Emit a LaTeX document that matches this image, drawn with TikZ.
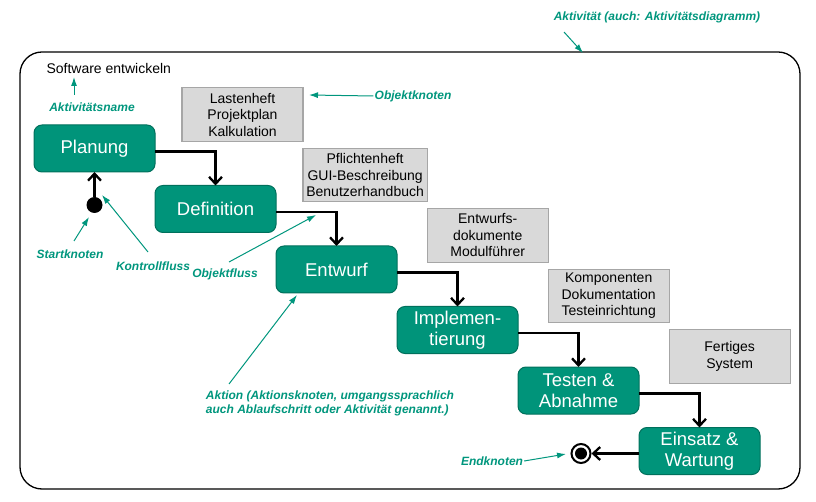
\documentclass[tikz,border=0pt]{standalone}
\usepackage{fontspec}
\setmainfont{Liberation Sans}
\usetikzlibrary{
	arrows.meta,
	positioning
}
\definecolor{ActFill}{RGB}{0,148,122}
\definecolor{ActBorder}{RGB}{0,112,92}
\definecolor{ObjFill}{RGB}{217,217,217}
\definecolor{ObjBorder}{RGB}{166,166,166}
\definecolor{NoteGreen}{RGB}{0,150,125}

\begin{document}
\begin{tikzpicture}[
			x=1pt, y=-1pt,
			node distance = 13.5pt and 0pt,
			ActStyle/.style={draw=ActBorder, fill=ActFill, rounded corners=8pt, line width=1pt,
				minimum width=121pt, minimum height=47pt, outer sep=0pt, text=white,
				align=center, font=\fontsize{18.5}{21}\selectfont},
			ObjStyle/.style={draw=ObjBorder, fill=ObjFill, line width=1.2pt, minimum width=121pt,
				minimum height=53.5pt, outer sep=0pt, align=center, font=\fontsize{14}{16.5}\selectfont},
			NoteStyle/.style={text=NoteGreen, inner sep=1pt, font=\fontsize{12}{14}\selectfont\bfseries\itshape},
			NoteArrow/.style={draw=NoteGreen, line width=1pt, -{Latex[length=9pt, width=6pt]}},
			FlowArrow/.style={line width=2.3pt, -{Straight Barb[length=7pt, width=13pt]}}]
			\useasboundingbox (0,0) rectangle (816,502);
			\node [draw, line width=1.3pt, rounded corners=22pt, minimum width=780pt,
				minimum height=437pt, outer sep=0pt] (frame) at (410,270.5) {};
			\node [anchor=west, font=\fontsize{14}{16}\selectfont] (title) at (43,69) {Software entwickeln};
			% Aktionen
			\node [ActStyle] (planung) at (94.5,148.5) {Planung};
			\node [ActStyle, below right=of planung] (definition) {Definition};
			\node [ActStyle, below right=of definition] (entwurf) {Entwurf};
			\node [ActStyle, below right=of entwurf] (implementierung) {Implemen-\\tierung};
			\node [ActStyle, below right=of implementierung] (testen) {Testen \&\\Abnahme};
			\node [ActStyle, below right=of testen] (einsatz) {Einsatz \&\\Wartung};
			% Objektknoten
			\node [ObjStyle] (lasten) at (242.5,114.5) {Lastenheft\\Projektplan\\Kalkulation};
			\node [ObjStyle, below right=7pt and 0pt of lasten] (pflichten) {Pflichtenheft\\GUI-Beschreibung\\Benutzerhandbuch};
			\node [ObjStyle, below right=7pt and 0pt of pflichten] (entwdok) {Entwurfs-\\dokumente\\Modulführer};
			\node [ObjStyle, below right=7pt and 0pt of entwdok] (komp) {Komponenten\\Dokumentation\\Testeinrichtung};
			\node [ObjStyle, below right=7pt and 0pt of komp] (fertig) {Fertiges\\System};
			% Start- und Endknoten
			\node [circle, fill=black, minimum size=16pt, inner sep=0pt] (start) at (94.5,205) {};
			\node [circle, draw, line width=2pt, fill=white, minimum size=19pt, inner sep=0pt] (endk) at (581,453.5) {};
			\fill (endk) circle (6pt);
			% Kontrollfluss
			\draw [FlowArrow] (start.north) -- (start.north |- planung.south);
			\draw [FlowArrow] ([yshift=-3pt]planung.east) -| (definition.north);
			\draw [FlowArrow] ([yshift=-3pt]definition.east) -| (entwurf.north);
			\draw [FlowArrow] ([yshift=-3pt]entwurf.east) -| (implementierung.north);
			\draw [FlowArrow] ([yshift=-3pt]implementierung.east) -| (testen.north);
			\draw [FlowArrow] ([yshift=-3pt]testen.east) -| (einsatz.north);
			\draw [FlowArrow] (einsatz.west |- endk) -- (endk.east);
			% Erlaeuterungen
			\node [NoteStyle] (naktivitaet) at (657,17) {Aktivität (auch: Aktivitätsdiagramm)};
			\node [NoteStyle] (nobjekt) at (413,96) {Objektknoten};
			\node [NoteStyle] (nname) at (92,107) {Aktivitätsname};
			\node [NoteStyle] (nstart) at (70,254) {Startknoten};
			\node [NoteStyle] (nkontroll) at (153,266) {Kontrollfluss};
			\node [NoteStyle] (nobjfluss) at (225,274) {Objektfluss};
			\node [NoteStyle, align=left] (naktion) at (330,403) {Aktion (Aktionsknoten, umgangssprachlich\\auch Ablaufschritt oder Aktivität genannt.)};
			\node [NoteStyle] (nend) at (492,461) {Endknoten};
			\coordinate (aktivitaetA) at (564,32);
			\coordinate (aktivitaetB) at (583,53);
			\coordinate (objektB) at (309,95);
			\coordinate (nameA) at (74,95);
			\coordinate (nameB) at (74,77);
			\coordinate (startA) at (74,241);
			\coordinate (startB) at (89,217);
			\coordinate (kontrollA) at (148,252);
			\coordinate (kontrollB) at (102,195);
			\coordinate (objflussA) at (229,262);
			\coordinate (objflussB) at (316,215);
			\coordinate (aktionA) at (229,384);
			\coordinate (aktionB) at (297,295);
			\coordinate (endB) at (566,454);
			\draw [NoteArrow] (aktivitaetA) -- (aktivitaetB);
			\draw [NoteArrow] (nobjekt.west) -- (objektB);
			\draw [NoteArrow] (nameA) -- (nameB);
			\draw [NoteArrow] (startA) -- (startB);
			\draw [NoteArrow] (kontrollA) -- (kontrollB);
			\draw [NoteArrow] (objflussA) -- (objflussB);
			\draw [NoteArrow] (aktionA) -- (aktionB);
			\draw [NoteArrow] (nend.east) -- (endB);
		\end{tikzpicture}
\end{document}
